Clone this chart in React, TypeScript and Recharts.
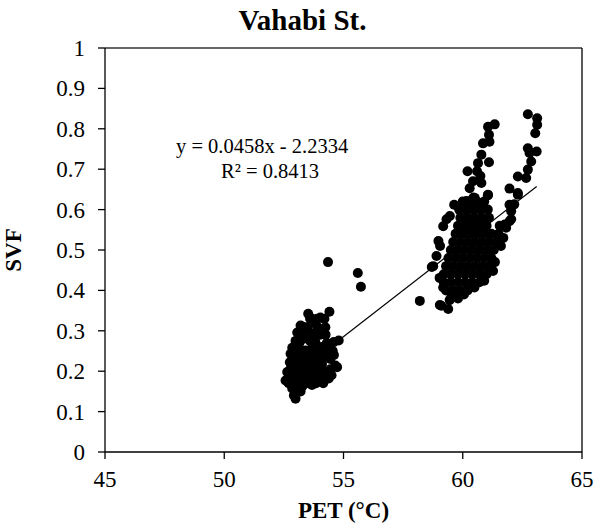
import React from 'react';
import {
  ScatterChart,
  Scatter,
  XAxis,
  YAxis,
  ReferenceLine,
  Label,
} from 'recharts';

// PET (°C) vs SVF
const lowCluster: [number, number][] = [
  [54.41, 0.347], [53.52, 0.342], [54.03, 0.333], [53.68, 0.33],
  [53.2, 0.313], [53.48, 0.309], [54.24, 0.309], [53.72, 0.32],
  [53.06, 0.296], [53.82, 0.296], [53.5, 0.3], [54.25, 0.29],
  [52.99, 0.275], [53.3, 0.28], [53.82, 0.272], [54.59, 0.272], [54.8, 0.276],
  [52.85, 0.258], [53.1, 0.26], [53.41, 0.251], [53.82, 0.251], [54.1, 0.26], [54.38, 0.251],
  [52.78, 0.243], [53.1, 0.24], [53.4, 0.238], [53.7, 0.24], [54.0, 0.238], [54.3, 0.236], [54.6, 0.24],
  [52.75, 0.222], [53.0, 0.22], [53.27, 0.227], [53.6, 0.22], [53.9, 0.222], [54.1, 0.218], [54.66, 0.214],
  [52.64, 0.198], [52.9, 0.2], [53.13, 0.202], [53.55, 0.206], [53.8, 0.2], [54.24, 0.198], [54.45, 0.205], [54.73, 0.21],
  [52.57, 0.177], [52.9, 0.18], [52.99, 0.177], [53.2, 0.18], [53.41, 0.182], [53.7, 0.18], [53.96, 0.177], [54.38, 0.182],
  [52.85, 0.157], [53.1, 0.16], [53.27, 0.162], [53.68, 0.166],
  [52.92, 0.14], [52.99, 0.132],
  [53.6, 0.33], [53.9, 0.33], [54.2, 0.33], [53.3, 0.31], [53.9, 0.31],
  [53.2, 0.29], [53.65, 0.29], [54.0, 0.29], [53.15, 0.27], [53.6, 0.275], [54.3, 0.27],
  [52.95, 0.25], [53.25, 0.25], [53.65, 0.255], [54.25, 0.25], [54.55, 0.25],
  [52.9, 0.23], [53.2, 0.23], [53.5, 0.23], [53.8, 0.23], [54.45, 0.23],
  [52.8, 0.21], [53.35, 0.21], [53.7, 0.21], [54.0, 0.21],
  [52.75, 0.19], [53.05, 0.19], [53.3, 0.19], [53.6, 0.19], [53.85, 0.19], [54.15, 0.19], [54.5, 0.19],
  [52.7, 0.17], [53.05, 0.17], [53.55, 0.17], [53.85, 0.17], [54.15, 0.17],
  [52.95, 0.15], [53.2, 0.15],
];

const outliers: [number, number][] = [
  [54.35, 0.47], [55.6, 0.443], [55.73, 0.409],
];

const upperStrands: [number, number][] = [
  [62.73, 0.836], [63.12, 0.826], [63.12, 0.81], [63.04, 0.789],
  [61.34, 0.811], [61.06, 0.805], [61.1, 0.785], [60.85, 0.764], [61.12, 0.768],
  [62.73, 0.752], [63.1, 0.744], [62.8, 0.74], [60.78, 0.736],
  [60.64, 0.715], [61.1, 0.717], [62.87, 0.719], [60.2, 0.695], [60.6, 0.695],
  [62.73, 0.699], [60.74, 0.683], [62.31, 0.682], [62.66, 0.678],
  [60.43, 0.67], [60.78, 0.666], [60.29, 0.653], [61.96, 0.652], [62.31, 0.641],
  [61.06, 0.637], [60.5, 0.629], [60.16, 0.621], [59.64, 0.612], [61.96, 0.612],
  [62.16, 0.613], [62.31, 0.637], [62.03, 0.596], [59.46, 0.584], [62.03, 0.576],
  [59.32, 0.576], [59.18, 0.559], [61.76, 0.563], [61.96, 0.571], [61.82, 0.555],
  [58.98, 0.522], [59.05, 0.51], [58.9, 0.485], [58.76, 0.46], [58.7, 0.458],
  [58.2, 0.374], [59.04, 0.364], [59.39, 0.354], [59.45, 0.376], [59.1, 0.362],
];

const mainBlob: [number, number][] = [
  [60.45, 0.63], [61.05, 0.635],
  [60.0, 0.62], [60.3, 0.62], [60.6, 0.62], [60.9, 0.62],
  [59.85, 0.6], [60.15, 0.6], [60.45, 0.6], [60.75, 0.6], [61.05, 0.6],
  [59.9, 0.58], [60.2, 0.58], [60.5, 0.58], [60.8, 0.58], [61.1, 0.58],
  [59.8, 0.56], [60.1, 0.56], [60.4, 0.56], [60.7, 0.56], [61.0, 0.56], [61.55, 0.56],
  [59.7, 0.54], [60.0, 0.54], [60.3, 0.54], [60.6, 0.54], [60.9, 0.54], [61.2, 0.54], [61.5, 0.54], [61.7, 0.53],
  [59.6, 0.52], [59.9, 0.52], [60.2, 0.52], [60.5, 0.52], [60.8, 0.52], [61.1, 0.52], [61.4, 0.52], [61.6, 0.51],
  [59.5, 0.5], [59.8, 0.5], [60.1, 0.5], [60.4, 0.5], [60.7, 0.5], [61.0, 0.5], [61.3, 0.5],
  [59.4, 0.48], [59.7, 0.48], [60.0, 0.48], [60.3, 0.48], [60.6, 0.48], [60.9, 0.48], [61.2, 0.48], [61.35, 0.47],
  [59.3, 0.46], [59.6, 0.46], [59.9, 0.46], [60.2, 0.46], [60.5, 0.46], [60.8, 0.46], [61.1, 0.46], [61.27, 0.448],
  [59.2, 0.44], [59.5, 0.44], [59.8, 0.44], [60.1, 0.44], [60.4, 0.44], [60.7, 0.44], [61.0, 0.44],
  [59.03, 0.431], [59.2, 0.42], [59.5, 0.42], [59.8, 0.42], [60.1, 0.42], [60.4, 0.42], [60.7, 0.42], [60.9, 0.424],
  [59.18, 0.407], [59.3, 0.4], [59.6, 0.4], [59.9, 0.4], [60.2, 0.4], [60.49, 0.407],
  [59.53, 0.383], [59.8, 0.38], [60.05, 0.39],
];

// regression y = 0.0458x - 2.2334 drawn across the data range
const trendLine = [
  { x: 52.7, y: 0.18 },
  { x: 63.1, y: 0.657 },
];

const xTicks = [45, 50, 55, 60, 65];
const yTicks = [0, 0.1, 0.2, 0.3, 0.4, 0.5, 0.6, 0.7, 0.8, 0.9, 1];

const points = [...lowCluster, ...outliers, ...upperStrands, ...mainBlob].map(
  ([x, y]) => ({ x, y })
);

const font = '"Liberation Serif", "Times New Roman", serif';

const Dot = (props: any) => {
  const { cx, cy } = props;
  if (cx == null || cy == null) return null;
  return <circle cx={cx} cy={cy} r={5} fill="#000" />;
};

const XTick = ({ x, y, payload }: any) => (
  <text className="tick-serif" x={x} y={y} dy="0.71em" textAnchor="middle" fill="#000">
    {payload.value}
  </text>
);

const YTick = ({ x, y, payload }: any) => (
  <text className="tick-serif" x={x} y={y} dy="0.35em" textAnchor="end" fill="#000">
    {payload.value}
  </text>
);

export default function App() {
  return (
    <div
      style={{
        position: 'absolute',
        left: 0,
        top: 0,
        width: 605,
        height: 529,
        background: '#fff',
        fontFamily: font,
      }}
    >
      <style>{`
        .recharts-wrapper svg text, .tick-serif {
          font-family: "Liberation Serif", "Times New Roman", serif !important;
        }
        .tick-serif { font-size: 23px; font-weight: normal; }
      `}</style>
      <div
        style={{
          position: 'absolute',
          top: 2,
          left: 0,
          width: 605,
          textAlign: 'center',
          fontWeight: 'bold',
          fontSize: 29,
          lineHeight: '36px',
        }}
      >
        Vahabi St.
      </div>
      <ScatterChart
        width={605}
        height={529}
        margin={{ top: 48, right: 23, bottom: 27, left: 45 }}
        style={{ fontFamily: font }}
      >
        <XAxis
          type="number"
          dataKey="x"
          domain={[45, 65]}
          ticks={xTicks}
          height={50}
          tickSize={7}
          tickMargin={12}
          stroke="#000"
          strokeWidth={1.3}
          tick={<XTick />}
          allowDataOverflow
        >
          <Label
            value="PET (°C)"
            position="insideBottom"
            offset={-16}
            style={{ fontWeight: 'bold', fontSize: 23, fill: '#000', fontFamily: font }}
          />
        </XAxis>
        <YAxis
          type="number"
          dataKey="y"
          domain={[0, 1]}
          ticks={yTicks}
          width={60}
          tickSize={7}
          tickMargin={13}
          stroke="#000"
          strokeWidth={1.3}
          tick={<YTick />}
          allowDataOverflow
        >
          <Label
            value="SVF"
            angle={-90}
            position="insideLeft"
            offset={-32}
            style={{ fontWeight: 'bold', fontSize: 23, fill: '#000', textAnchor: 'middle', fontFamily: font }}
          />
        </YAxis>
        <ReferenceLine y={1} stroke="#333" strokeWidth={1.3} />
        <ReferenceLine x={65} stroke="#000" strokeWidth={1.3} />
        <Scatter data={points} shape={Dot} isAnimationActive={false} />
        <Scatter
          data={trendLine}
          line={{ stroke: '#000', strokeWidth: 1.2 }}
          shape={() => null}
          isAnimationActive={false}
        />
      </ScatterChart>
      <div
        style={{
          position: 'absolute',
          left: 176,
          top: 134,
          fontSize: 20.5,
          lineHeight: '24px',
          color: '#000',
        }}
      >
        y = 0.0458x - 2.2334
      </div>
      <div
        style={{
          position: 'absolute',
          left: 221,
          top: 159,
          fontSize: 20.5,
          lineHeight: '24px',
          color: '#000',
        }}
      >
        R² = 0.8413
      </div>
    </div>
  );
}
